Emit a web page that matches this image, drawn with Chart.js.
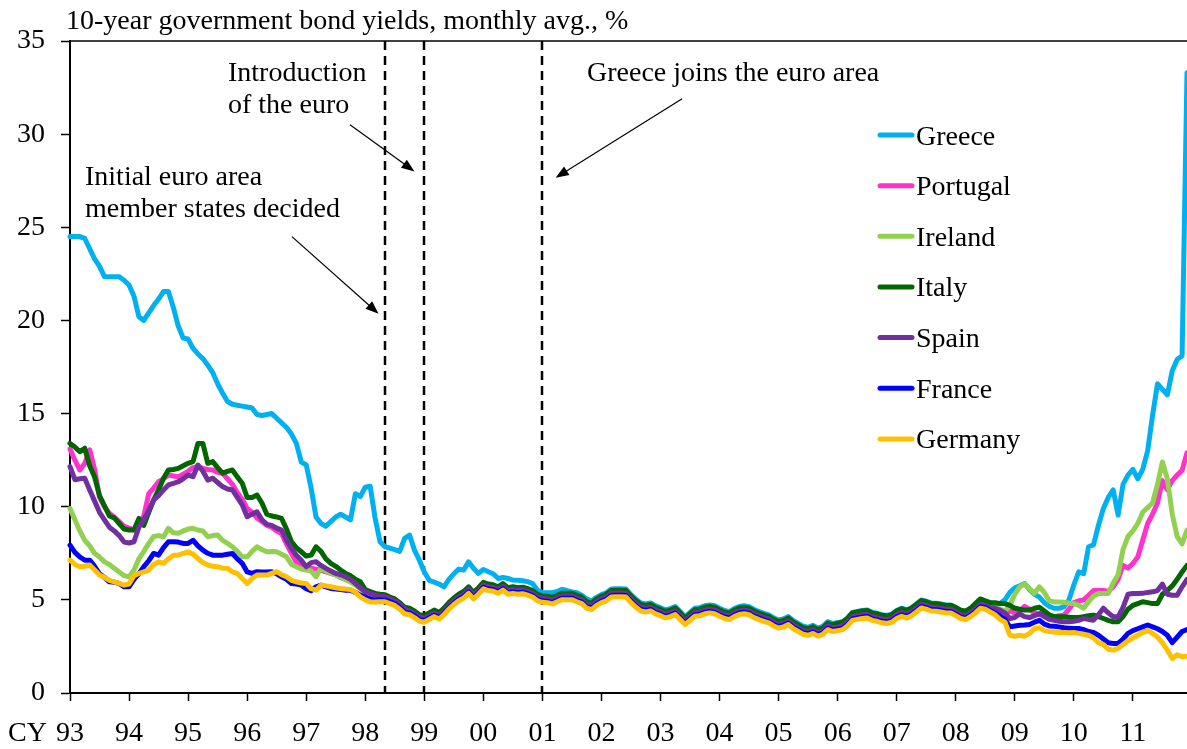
<!DOCTYPE html>
<html>
<head>
<meta charset="utf-8">
<script src="https://cdn.jsdelivr.net/npm/chart.js@4.4.1/dist/chart.umd.min.js"></script>
<style>
  html, body { margin: 0; padding: 0; background: #fff; }
  canvas { display: block; }
</style>
</head>
<body>
<canvas id="bondChart" width="1187" height="749"></canvas>
<script>
// tick labels, one per calendar year (monthly data from Jan 1993 to Dec 2011)
var years = ['93','94','95','96','97','98','99','00','01','02','03','04','05','06','07','08','09','10','11'];

var countries = ['Greece', 'Portugal', 'Ireland', 'Italy', 'Spain', 'France', 'Germany'];
var colors = ['#00b0f0', '#ff33cc', '#92d050', '#006600', '#7030a0', '#0000ff', '#ffc000'];

// events marked with dashed lines (month labels)
var eventMonths = ['98-5', '99-1', '01-1'];

var greece = [
  24.5, 24.5, 24.5, 24.4, 23.85, 23.3, 22.9, 22.35, 22.35, 22.35, 22.35, 22.15,
  21.9, 21.3, 20.2, 20.0, 20.4, 20.8, 21.15, 21.55, 21.55, 20.7, 19.7, 19.05,
  19.0, 18.5, 18.2, 17.95, 17.6, 17.2, 16.6, 16.1, 15.65, 15.5, 15.45, 15.4,
  15.35, 15.3, 14.95, 14.9, 14.95, 15.0, 14.75, 14.5, 14.25, 13.9, 13.4, 12.4,
  12.25, 11.0, 9.45, 9.1, 8.95, 9.2, 9.45, 9.6, 9.45, 9.3, 10.7, 10.55,
  11.05, 11.1, 9.4, 8.12, 7.85, 7.78, 7.7, 7.6, 8.3, 8.48, 7.67, 7.13,
  6.5, 6.05, 5.95, 5.85, 5.7, 6.1, 6.4, 6.65, 6.6, 7.04, 6.7, 6.42,
  6.63, 6.51, 6.4, 6.15, 6.2, 6.15, 6.06, 6.05, 6.03, 5.98, 5.88, 5.52,
  5.40, 5.38, 5.38, 5.45, 5.56, 5.50, 5.43, 5.38, 5.25, 5.05, 4.95, 5.13,
  5.28, 5.38, 5.58, 5.60, 5.60, 5.58, 5.28, 5.03, 4.83, 4.78, 4.83, 4.68,
  4.58, 4.46, 4.53, 4.64, 4.38, 4.10, 4.33, 4.55, 4.58, 4.68, 4.73, 4.68,
  4.55, 4.43, 4.37, 4.53, 4.64, 4.68, 4.63, 4.48, 4.37, 4.28, 4.19, 4.03,
  3.92, 3.98, 4.10, 3.88, 3.73, 3.58, 3.53, 3.63, 3.48, 3.58, 3.83, 3.73,
  3.78, 3.83, 4.03, 4.33, 4.38, 4.43, 4.46, 4.33, 4.28, 4.20, 4.16, 4.23,
  4.43, 4.55, 4.46, 4.58, 4.78, 4.99, 4.93, 4.83, 4.82, 4.78, 4.73, 4.73,
  4.58, 4.43, 4.37, 4.53, 4.73, 4.98, 4.93, 4.80, 4.75, 4.8, 5.0, 5.4,
  5.65, 5.75, 5.88, 5.55, 5.3, 5.15, 4.85, 4.65, 4.55, 4.55, 4.62, 5.0,
  5.8, 6.5, 6.4, 7.85, 7.95, 9.0, 9.9, 10.5, 10.9, 9.55, 11.2, 11.7,
  12.0, 11.5, 12.0, 13.0, 14.9, 16.6, 16.3, 16.0, 17.3, 17.9, 18.1, 33.3
];

var portugal = [
  13.1, 12.5, 11.97, 12.33, 13.05, 12.0, 10.5, 10.0, 9.65, 9.45, 9.2, 8.95,
  8.85, 8.75, 9.1, 9.5, 10.7, 11.0, 11.34, 11.5, 11.7, 11.65, 11.6, 11.75,
  11.9, 12.1, 12.15, 12.06, 12.0, 11.97, 11.85, 11.8, 11.5, 11.2, 10.75, 10.4,
  9.9, 9.7, 9.4, 9.2, 9.0, 8.9, 8.7, 8.55, 8.0, 7.5, 7.0, 6.9,
  6.8, 6.7, 6.65, 6.6, 6.5, 6.42, 6.35, 6.2, 6.1, 6.0, 5.85, 5.7,
  5.45, 5.4, 5.3, 5.25, 5.22, 5.1, 5.0, 4.8, 4.55, 4.45, 4.3, 4.15,
  4.03, 4.18, 4.33, 4.20, 4.43, 4.73, 4.98, 5.18, 5.33, 5.58, 5.28, 5.53,
  5.82, 5.73, 5.69, 5.58, 5.75, 5.53, 5.58, 5.53, 5.56, 5.48, 5.38, 5.18,
  5.10, 5.08, 5.01, 5.13, 5.24, 5.24, 5.24, 5.13, 5.03, 4.78, 4.70, 4.93,
  5.08, 5.18, 5.38, 5.40, 5.40, 5.38, 5.08, 4.83, 4.63, 4.58, 4.63, 4.48,
  4.38, 4.26, 4.33, 4.44, 4.18, 3.90, 4.13, 4.35, 4.38, 4.48, 4.53, 4.48,
  4.35, 4.23, 4.17, 4.33, 4.44, 4.48, 4.43, 4.28, 4.17, 4.08, 3.99, 3.83,
  3.72, 3.78, 3.90, 3.68, 3.53, 3.38, 3.33, 3.43, 3.28, 3.38, 3.63, 3.53,
  3.58, 3.63, 3.83, 4.13, 4.18, 4.23, 4.26, 4.13, 4.08, 4.00, 3.96, 4.03,
  4.23, 4.35, 4.26, 4.38, 4.58, 4.79, 4.73, 4.63, 4.62, 4.58, 4.53, 4.53,
  4.38, 4.23, 4.17, 4.33, 4.53, 4.78, 4.73, 4.58, 4.5, 4.45, 4.3, 4.4,
  4.3, 4.4, 4.65, 4.5, 4.3, 4.2, 4.2, 4.15, 4.1, 4.15, 4.18, 4.5,
  4.85, 4.95, 5.0, 5.25, 5.5, 5.5, 5.5, 5.45, 5.7, 6.1, 6.85, 6.7,
  6.95, 7.3, 8.2, 9.1, 9.6, 10.2, 11.4, 10.9, 11.4, 11.7, 11.95, 12.9
];

var ireland = [
  9.9, 9.3, 8.7, 8.2, 7.9, 7.5, 7.3, 7.04, 6.9, 6.7, 6.5, 6.3,
  6.24, 6.6, 7.2, 7.6, 8.03, 8.4, 8.45, 8.39, 8.84, 8.6, 8.57, 8.7,
  8.8, 8.84, 8.75, 8.7, 8.39, 8.45, 8.48, 8.2, 8.03, 7.85, 7.6, 7.31,
  7.31, 7.6, 7.85, 7.7, 7.58, 7.6, 7.58, 7.45, 7.31, 6.9, 6.78, 6.65,
  6.6, 6.55, 6.24, 6.69, 6.55, 6.42, 6.35, 6.2, 6.1, 5.95, 5.8, 5.6,
  5.4, 5.3, 5.2, 5.15, 5.1, 5.0, 4.9, 4.7, 4.45, 4.35, 4.2, 4.05,
  3.95, 4.10, 4.25, 4.12, 4.35, 4.65, 4.90, 5.10, 5.25, 5.50, 5.20, 5.45,
  5.74, 5.65, 5.61, 5.50, 5.67, 5.45, 5.50, 5.45, 5.48, 5.40, 5.30, 5.10,
  5.02, 5.00, 4.93, 5.05, 5.16, 5.16, 5.16, 5.05, 4.95, 4.70, 4.62, 4.85,
  5.00, 5.10, 5.30, 5.32, 5.32, 5.30, 5.00, 4.75, 4.55, 4.50, 4.55, 4.40,
  4.30, 4.18, 4.25, 4.36, 4.10, 3.82, 4.05, 4.27, 4.30, 4.40, 4.45, 4.40,
  4.27, 4.15, 4.09, 4.25, 4.36, 4.40, 4.35, 4.20, 4.09, 4.00, 3.91, 3.75,
  3.64, 3.70, 3.82, 3.60, 3.45, 3.30, 3.25, 3.35, 3.20, 3.30, 3.55, 3.45,
  3.50, 3.55, 3.75, 4.05, 4.10, 4.15, 4.18, 4.05, 4.00, 3.92, 3.88, 3.95,
  4.15, 4.27, 4.18, 4.30, 4.50, 4.71, 4.65, 4.55, 4.54, 4.50, 4.45, 4.45,
  4.30, 4.15, 4.09, 4.25, 4.45, 4.70, 4.65, 4.50, 4.55, 4.5, 4.4, 4.7,
  5.3, 5.7, 5.85, 5.6, 5.35, 5.7, 5.4, 4.95, 4.89, 4.89, 4.87, 4.82,
  4.8, 4.7, 4.55, 4.9, 5.2, 5.34, 5.34, 5.34, 5.9, 6.35, 7.7, 8.4,
  8.7, 9.1, 9.7, 9.95, 10.2, 11.2, 12.4, 11.5, 9.6, 8.4, 8.0, 8.75
];

var italy = [
  13.4, 13.2, 12.95, 13.14, 12.2, 11.6, 10.6, 10.05, 9.5, 9.4, 9.1, 8.8,
  8.75, 8.75, 9.37, 9.0, 9.7, 10.36, 10.9, 11.53, 11.97, 12.0, 12.06, 12.2,
  12.33, 12.42, 13.4, 13.4, 12.33, 12.42, 12.1, 11.8, 11.9, 11.97, 11.6, 11.26,
  10.5, 10.5, 10.63, 10.2, 9.6, 9.5, 9.45, 9.37, 8.8, 8.12, 7.8, 7.58,
  7.35, 7.4, 7.85, 7.6, 7.2, 6.96, 6.8, 6.6, 6.42, 6.3, 6.1, 5.97,
  5.55, 5.45, 5.35, 5.3, 5.28, 5.15, 5.05, 4.85, 4.6, 4.55, 4.4, 4.2,
  4.15, 4.30, 4.45, 4.32, 4.55, 4.85, 5.10, 5.30, 5.45, 5.70, 5.40, 5.65,
  5.94, 5.85, 5.81, 5.70, 5.87, 5.65, 5.70, 5.65, 5.68, 5.60, 5.50, 5.30,
  5.22, 5.20, 5.13, 5.25, 5.36, 5.36, 5.36, 5.25, 5.15, 4.90, 4.82, 5.05,
  5.20, 5.30, 5.50, 5.52, 5.52, 5.50, 5.20, 4.95, 4.75, 4.70, 4.75, 4.60,
  4.50, 4.38, 4.45, 4.56, 4.30, 4.02, 4.25, 4.47, 4.50, 4.60, 4.65, 4.60,
  4.47, 4.35, 4.29, 4.45, 4.56, 4.60, 4.55, 4.40, 4.29, 4.20, 4.11, 3.95,
  3.84, 3.90, 4.02, 3.80, 3.65, 3.50, 3.45, 3.55, 3.40, 3.50, 3.75, 3.65,
  3.75, 3.80, 4.00, 4.30, 4.35, 4.40, 4.43, 4.30, 4.25, 4.17, 4.13, 4.20,
  4.40, 4.52, 4.43, 4.55, 4.75, 4.96, 4.90, 4.80, 4.79, 4.75, 4.70, 4.70,
  4.60, 4.45, 4.39, 4.55, 4.80, 5.05, 4.95, 4.85, 4.85, 4.8, 4.8, 4.7,
  4.55, 4.5, 4.45, 4.45, 4.55, 4.6, 4.4, 4.2, 4.1, 4.09, 4.09, 4.07,
  4.05, 4.05, 4.1, 4.15, 4.18, 4.1, 4.0, 3.9, 3.82, 3.82, 4.1, 4.5,
  4.7, 4.8, 4.9, 4.85, 4.8, 4.8, 5.3, 5.5, 5.75, 6.1, 6.5, 6.85
];

var spain = [
  12.15, 11.45, 11.5, 11.53, 10.9, 10.3, 9.7, 9.3, 8.9, 8.7, 8.45, 8.1,
  8.05, 8.12, 8.9, 9.3, 9.8, 10.36, 10.6, 10.9, 11.17, 11.25, 11.34, 11.5,
  11.7, 11.61, 12.24, 11.9, 11.43, 11.53, 11.3, 11.08, 10.95, 10.9, 10.5, 10.1,
  9.46, 9.6, 9.73, 9.3, 9.05, 9.0, 8.85, 8.75, 8.2, 7.76, 7.4, 7.13,
  6.78, 7.0, 7.05, 6.85, 6.69, 6.55, 6.42, 6.35, 6.24, 6.1, 5.88, 5.65,
  5.43, 5.35, 5.25, 5.2, 5.17, 5.05, 4.95, 4.75, 4.5, 4.4, 4.25, 4.1,
  4.00, 4.15, 4.30, 4.17, 4.40, 4.70, 4.95, 5.15, 5.30, 5.55, 5.25, 5.50,
  5.79, 5.70, 5.66, 5.55, 5.72, 5.50, 5.55, 5.50, 5.53, 5.45, 5.35, 5.15,
  5.07, 5.05, 4.98, 5.10, 5.21, 5.21, 5.21, 5.10, 5.00, 4.75, 4.67, 4.90,
  5.05, 5.15, 5.35, 5.37, 5.37, 5.35, 5.05, 4.80, 4.60, 4.55, 4.60, 4.45,
  4.35, 4.23, 4.30, 4.41, 4.15, 3.87, 4.10, 4.32, 4.35, 4.45, 4.50, 4.45,
  4.32, 4.20, 4.14, 4.30, 4.41, 4.45, 4.40, 4.25, 4.14, 4.05, 3.96, 3.80,
  3.69, 3.75, 3.87, 3.65, 3.50, 3.35, 3.30, 3.40, 3.25, 3.35, 3.60, 3.50,
  3.55, 3.60, 3.80, 4.10, 4.15, 4.20, 4.23, 4.10, 4.05, 3.97, 3.93, 4.00,
  4.20, 4.32, 4.23, 4.35, 4.55, 4.76, 4.70, 4.60, 4.59, 4.55, 4.50, 4.50,
  4.35, 4.20, 4.14, 4.30, 4.50, 4.75, 4.70, 4.55, 4.55, 4.45, 4.3, 4.0,
  4.05, 4.25, 4.1, 4.05, 4.15, 4.27, 4.1, 3.95, 3.9, 3.85, 3.82, 3.82,
  3.85, 3.9, 4.0, 3.95, 3.91, 4.2, 4.55, 4.3, 4.09, 4.09, 4.6, 5.3,
  5.34, 5.34, 5.35, 5.4, 5.43, 5.5, 5.85, 5.3, 5.25, 5.25, 5.7, 6.1
];

var france = [
  7.94, 7.55, 7.3, 7.13, 7.13, 6.8, 6.4, 6.2, 5.97, 5.95, 5.88, 5.7,
  5.7, 6.1, 6.4, 6.78, 7.1, 7.49, 7.4, 7.8, 8.12, 8.12, 8.1, 8.03,
  8.03, 8.2, 7.9, 7.67, 7.5, 7.4, 7.4, 7.4, 7.45, 7.49, 7.2, 6.96,
  6.5, 6.42, 6.51, 6.5, 6.5, 6.51, 6.4, 6.24, 6.1, 5.88, 5.85, 5.79,
  5.6, 5.49, 5.7, 5.79, 5.7, 5.61, 5.58, 5.55, 5.52, 5.52, 5.4, 5.25,
  5.15, 5.05, 4.98, 5.0, 4.98, 4.9, 4.8, 4.6, 4.35, 4.3, 4.15, 3.95,
  3.88, 4.03, 4.18, 4.05, 4.28, 4.58, 4.83, 5.03, 5.18, 5.43, 5.13, 5.38,
  5.67, 5.58, 5.54, 5.43, 5.60, 5.38, 5.43, 5.38, 5.41, 5.33, 5.23, 5.03,
  4.95, 4.93, 4.86, 4.98, 5.09, 5.09, 5.09, 4.98, 4.88, 4.63, 4.55, 4.78,
  4.93, 5.03, 5.23, 5.25, 5.25, 5.23, 4.93, 4.68, 4.48, 4.43, 4.48, 4.33,
  4.23, 4.11, 4.18, 4.29, 4.03, 3.75, 3.98, 4.20, 4.23, 4.33, 4.38, 4.33,
  4.20, 4.08, 4.02, 4.18, 4.29, 4.33, 4.28, 4.13, 4.02, 3.93, 3.84, 3.68,
  3.57, 3.63, 3.75, 3.53, 3.38, 3.23, 3.18, 3.28, 3.13, 3.23, 3.48, 3.38,
  3.43, 3.48, 3.68, 3.98, 4.03, 4.08, 4.11, 3.98, 3.93, 3.85, 3.81, 3.88,
  4.08, 4.20, 4.11, 4.23, 4.43, 4.64, 4.58, 4.48, 4.47, 4.43, 4.38, 4.38,
  4.23, 4.08, 4.02, 4.18, 4.38, 4.63, 4.58, 4.43, 4.3, 4.15, 3.95, 3.55,
  3.6, 3.64, 3.65, 3.68, 3.8, 3.9, 3.7, 3.6, 3.58, 3.55, 3.5, 3.48,
  3.46, 3.46, 3.4, 3.3, 3.25, 3.1, 2.9, 2.7, 2.66, 2.66, 2.9, 3.2,
  3.35, 3.45, 3.55, 3.65, 3.55, 3.45, 3.3, 3.1, 2.7, 3.0, 3.3, 3.4
];

var germany = [
  7.13, 6.9, 6.78, 6.8, 6.87, 6.6, 6.33, 6.2, 6.05, 5.97, 5.88, 5.79,
  5.85, 6.3, 6.42, 6.5, 6.6, 6.9, 7.04, 6.96, 7.2, 7.4, 7.4, 7.5,
  7.58, 7.45, 7.22, 7.0, 6.87, 6.8, 6.78, 6.7, 6.69, 6.5, 6.42, 6.15,
  5.88, 6.15, 6.33, 6.33, 6.33, 6.42, 6.51, 6.35, 6.24, 6.05, 5.97, 5.9,
  5.88, 5.6, 5.52, 5.79, 5.75, 5.7, 5.65, 5.61, 5.58, 5.56, 5.4, 5.16,
  5.0, 4.89, 4.89, 4.9, 4.9, 4.8, 4.7, 4.5, 4.25, 4.2, 4.05, 3.85,
  3.80, 3.95, 4.10, 3.97, 4.20, 4.50, 4.75, 4.95, 5.10, 5.35, 5.05, 5.30,
  5.59, 5.50, 5.46, 5.35, 5.52, 5.30, 5.35, 5.30, 5.33, 5.25, 5.15, 4.95,
  4.87, 4.85, 4.78, 4.90, 5.01, 5.01, 5.01, 4.90, 4.80, 4.55, 4.47, 4.70,
  4.85, 4.95, 5.15, 5.17, 5.17, 5.15, 4.85, 4.60, 4.40, 4.35, 4.40, 4.25,
  4.15, 4.03, 4.10, 4.21, 3.95, 3.67, 3.90, 4.12, 4.15, 4.25, 4.30, 4.25,
  4.12, 4.00, 3.94, 4.10, 4.21, 4.25, 4.20, 4.05, 3.94, 3.85, 3.76, 3.60,
  3.49, 3.55, 3.67, 3.45, 3.30, 3.15, 3.10, 3.20, 3.05, 3.15, 3.40, 3.30,
  3.35, 3.40, 3.60, 3.90, 3.95, 4.00, 4.03, 3.90, 3.85, 3.77, 3.73, 3.80,
  4.00, 4.12, 4.03, 4.15, 4.35, 4.56, 4.50, 4.40, 4.39, 4.35, 4.30, 4.30,
  4.15, 4.00, 3.94, 4.10, 4.30, 4.55, 4.50, 4.35, 4.2, 3.95, 3.8, 3.1,
  3.05, 3.1, 3.05, 3.2, 3.45, 3.5, 3.35, 3.3, 3.28, 3.25, 3.25, 3.23,
  3.25, 3.2, 3.15, 3.1, 2.95, 2.7, 2.6, 2.35, 2.3, 2.4, 2.6, 2.8,
  2.95, 3.1, 3.25, 3.35, 3.2, 3.0, 2.7, 2.3, 1.85, 2.05, 1.95, 1.97
];

var series = [greece, portugal, ireland, italy, spain, france, germany];

// month labels like "93-1" ... "11-12"
var months = [];
years.forEach(function(y) {
	for (var k = 1; k <= 12; k++) months.push(y + '-' + k);
});

var serif = '"Liberation Serif", "Times New Roman", serif';

// annotations: text in pixels, arrows in (month index, yield) space
var notes = [
	{ lines: ['Introduction', 'of the euro'], x: 228, y: 81 },
	{ lines: ['Greece joins the euro area'], x: 587, y: 81 },
	{ lines: ['Initial euro area', 'member states decided'], x: 85, y: 185 }
];
var arrows = [
	{ from: [56.9, 30.5], to: [70.0, 28.0] },
	{ from: [124.4, 31.9], to: [98.7, 27.66] },
	{ from: [45.1, 24.5], to: [62.7, 20.36] }
];

function drawArrow(ctx, x1, y1, x2, y2) {
	var a = Math.atan2(y2 - y1, x2 - x1);
	var len = 13, hw = 5;
	ctx.beginPath();
	ctx.moveTo(x1, y1);
	ctx.lineTo(x2 - Math.cos(a) * len * 0.8, y2 - Math.sin(a) * len * 0.8);
	ctx.stroke();
	ctx.beginPath();
	ctx.moveTo(x2, y2);
	ctx.lineTo(x2 - Math.cos(a) * len - Math.sin(a) * hw, y2 - Math.sin(a) * len + Math.cos(a) * hw);
	ctx.lineTo(x2 - Math.cos(a) * len + Math.sin(a) * hw, y2 - Math.sin(a) * len - Math.cos(a) * hw);
	ctx.closePath();
	ctx.fill();
}

var decorations = {
	id: 'decorations',
	beforeDatasetsDraw: function(chart) {
		var ctx = chart.ctx, area = chart.chartArea;
		var xs = chart.scales.x;
		ctx.save();
		// event lines
		ctx.strokeStyle = '#000';
		ctx.lineWidth = 2.5;
		ctx.setLineDash([9, 6]);
		eventMonths.forEach(function(m) {
			var px = Math.round(xs.getPixelForValue(months.indexOf(m)));
			ctx.beginPath();
			ctx.moveTo(px, area.top);
			ctx.lineTo(px, area.bottom);
			ctx.stroke();
		});
		ctx.restore();
	},
	afterDatasetsDraw: function(chart) {
		var ctx = chart.ctx, area = chart.chartArea;
		var xs = chart.scales.x, ys = chart.scales.y;
		ctx.save();
		// top frame line
		ctx.strokeStyle = '#000';
		ctx.lineWidth = 1.5;
		ctx.beginPath();
		ctx.moveTo(area.left, area.top);
		ctx.lineTo(area.right, area.top);
		ctx.stroke();

		ctx.fillStyle = '#000';
		ctx.font = '28px ' + serif;
		ctx.textAlign = 'left';
		ctx.textBaseline = 'alphabetic';
		// title
		ctx.fillText('10-year government bond yields, monthly avg., %', 66, 29);
		// "CY" before the first year label
		ctx.textBaseline = 'middle';
		ctx.fillText('CY', 8, 734);
		ctx.textBaseline = 'alphabetic';

		notes.forEach(function(n) {
			n.lines.forEach(function(t, i) {
				ctx.fillText(t, n.x, n.y + i * 31.5);
			});
		});

		ctx.lineWidth = 1.2;
		arrows.forEach(function(a) {
			drawArrow(ctx,
				xs.getPixelForValue(a.from[0]), ys.getPixelForValue(a.from[1]),
				xs.getPixelForValue(a.to[0]), ys.getPixelForValue(a.to[1]));
		});

		// legend
		countries.forEach(function(name, i) {
			var ly = 135 + i * 50.65;
			ctx.strokeStyle = colors[i];
			ctx.lineWidth = 5;
			ctx.lineCap = 'round';
			ctx.beginPath();
			ctx.moveTo(880, ly);
			ctx.lineTo(912, ly);
			ctx.stroke();
			ctx.fillStyle = '#000';
			ctx.fillText(name, 916, ly + 9.5);
		});
		ctx.restore();
	}
};

var ctx = document.getElementById('bondChart').getContext('2d');
var bondChart = new Chart(ctx, {
	type: 'line',
	data: {
		labels: months,
		datasets: countries.map(function(name, i) {
			return {
				label: name,
				data: series[i],
				borderColor: colors[i],
				backgroundColor: colors[i],
				borderWidth: 5,
				borderJoinStyle: 'round',
				borderCapStyle: 'round',
				pointRadius: 0,
				tension: 0,
				fill: false,
				clip: 6,
				order: countries.length - i
			};
		})
	},
	options: {
		responsive: false,
		animation: false,
		devicePixelRatio: 1,
		layout: { padding: { top: 41, right: 0, left: 0, bottom: 0 } },
		plugins: {
			legend: { display: false },
			tooltip: { enabled: false }
		},
		scales: {
			x: {
				type: 'category',
				offset: false,
				afterFit: function(scale) {
					scale.height = 56;
					scale.paddingLeft = 0;
					scale.paddingRight = 0;
				},
				border: { display: true, color: '#000', width: 2 },
				grid: {
					drawOnChartArea: false,
					drawTicks: true,
					tickLength: 8,
					tickWidth: 1.5,
					tickColor: function(c) { return c.index % 12 === 0 ? '#000' : 'rgba(0,0,0,0)'; }
				},
				ticks: {
					autoSkip: false,
					maxRotation: 0,
					minRotation: 0,
					padding: 16,
					color: '#000',
					font: { family: serif, size: 28 },
					callback: function(val, idx) { return idx % 12 === 0 ? years[idx / 12] : ''; }
				}
			},
			y: {
				min: 0,
				max: 35,
				afterFit: function(scale) { scale.width = 70; },
				border: { display: true, color: '#000', width: 2 },
				grid: {
					drawOnChartArea: false,
					drawTicks: true,
					tickLength: 9,
					tickWidth: 1.5,
					tickColor: '#000'
				},
				ticks: {
					stepSize: 5,
					padding: 16,
					color: '#000',
					font: { family: serif, size: 28 }
				}
			}
		}
	},
	plugins: [decorations]
});
</script>
</body>
</html>
